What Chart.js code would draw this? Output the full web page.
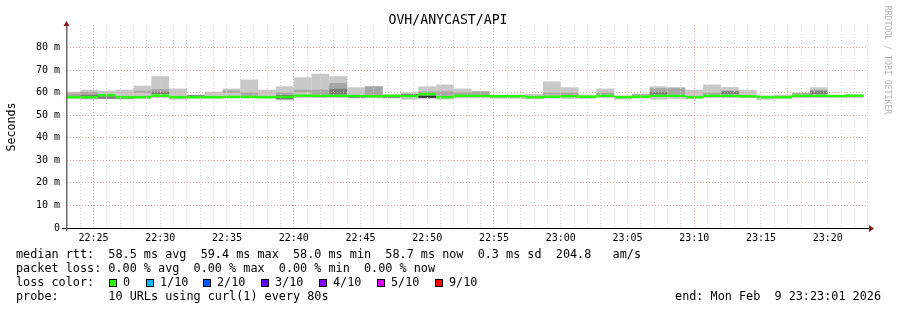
<!DOCTYPE html>
<html>
<head>
<meta charset="utf-8">
<title>OVH/ANYCAST/API</title>
<script src="https://cdn.jsdelivr.net/npm/chart.js@4/dist/chart.umd.min.js"></script>
<style>
  html, body { margin: 0; padding: 0; background: #fff; }
  canvas { display: block; }
</style>
</head>
<body>
<canvas id="rttChart" width="897" height="310"></canvas>
<script>
// start time of each 80s step (clock time)
const stepTimes = [
  "22:22:40", "22:24:00", "22:25:20", "22:26:40", "22:28:00", "22:29:20", "22:30:40", "22:32:00", "22:33:20", "22:34:40",
  "22:36:00", "22:37:20", "22:38:40", "22:40:00", "22:41:20", "22:42:40", "22:44:00", "22:45:20", "22:46:40", "22:48:00",
  "22:49:20", "22:50:40", "22:52:00", "22:53:20", "22:54:40", "22:56:00", "22:57:20", "22:58:40", "23:00:00", "23:01:20",
  "23:02:40", "23:04:00", "23:05:20", "23:06:40", "23:08:00", "23:09:20", "23:10:40", "23:12:00", "23:13:20", "23:14:40",
  "23:16:00", "23:17:20", "23:18:40", "23:20:00", "23:21:20"
];

// smoke: slowest and fastest of the 10 pings (ms)
const rttMax = [
  60.4, 61.3, 60.9, 61.3, 63.1, 67.3, 61.8, 59.1, 60.4, 61.8,
  65.8, 61.3, 62.8, 66.8, 68.4, 67.3, 62.4, 62.8, 59.3, 60.1,
  62.8, 63.6, 61.8, 60.6, 58.8, 58.8, 59.4, 65.0, 62.4, 58.8,
  61.8, 58.8, 59.4, 62.8, 62.5, 61.3, 63.6, 62.5, 61.3, 58.8,
  59.1, 59.9, 62.4, 58.8, 58.8
];
const rttMin = [
  57.3, 56.9, 57.2, 57.0, 57.3, 57.6, 56.9, 57.5, 57.4, 57.5,
  57.5, 57.5, 56.9, 57.6, 57.6, 57.6, 57.5, 57.5, 57.5, 56.9,
  57.3, 57.0, 57.5, 57.5, 57.3, 57.3, 57.2, 57.4, 57.3, 57.3,
  57.6, 56.9, 57.4, 56.9, 57.3, 57.3, 57.6, 57.6, 57.6, 56.9,
  57.3, 57.6, 57.6, 57.7, 57.6
];

// inner smoke bands
const midLo = [
  58.4, 58.4, null, null, 59.9, 60.3, null, null, null, 59.9,
  58.7, null, 59.1, 60.3, 59.1, 61.8, null, 59.1, null, null,
  59.1, 58.7, 58.7, 59.1, null, null, null, 59.1, 58.8, null,
  59.1, null, 58.8, 59.1, 59.1, null, 58.7, 59.1, null, null,
  null, 59.1, 59.1, null, null
];
const midHi = [
  59.6, 60.3, null, null, 60.9, 61.6, null, null, null, 60.9,
  59.9, null, 59.9, 61.3, 61.3, 64.3, null, 62.8, null, null,
  60.6, 60.6, 60.1, 60.6, null, null, null, 59.9, 59.9, null,
  59.9, null, 59.4, 62.0, 62.0, null, 59.9, 60.9, null, null,
  null, 59.9, 61.3, null, null
];
const darkLo = [
  null, 57.6, 57.3, null, null, 59.4, null, null, null, null,
  null, null, 57.0, null, null, 59.1, null, null, null, 58.9,
  57.6, null, null, null, null, null, null, null, null, null,
  null, null, null, 59.1, null, null, null, 59.4, null, null,
  null, null, 59.4, null, null
];
const darkHi = [
  null, 59.0, 58.4, null, null, 60.3, null, null, null, null,
  null, null, 59.0, null, null, 61.8, null, null, null, 59.4,
  58.8, null, null, null, null, null, null, null, null, null,
  null, null, null, 60.3, null, null, null, 60.6, null, null,
  null, null, 60.6, null, null
];
const blackLine = [
  null, 58.0, null, 57.9, null, null, null, 58.3, null, null,
  null, null, 58.0, null, null, null, 58.3, null, 58.3, null,
  58.2, null, null, null, null, null, null, null, null, null,
  null, null, null, null, null, null, null, null, null, null,
  null, null, null, null, null
];

// median rtt (ms), loss 0 for every step
const medianRtt = [
  58.0, 58.0, 58.9, 58.0, 58.0, 58.7, 58.0, 58.0, 58.0, 58.1,
  58.1, 58.0, 58.1, 58.7, 58.6, 58.6, 58.5, 58.4, 58.6, 58.5,
  59.4, 58.0, 58.6, 58.6, 58.4, 58.4, 58.0, 58.2, 58.4, 58.2,
  58.6, 58.0, 58.2, 58.6, 58.6, 58.0, 58.6, 58.6, 58.4, 58.0,
  58.0, 58.6, 58.6, 58.5, 58.7
];

const graphStart = "22:23:01";
const graphEnd = "23:23:01";
const stepSeconds = 80;
const gridSeconds = 60;

const lossLabels = ["0", "1/10", "2/10", "3/10", "4/10", "5/10", "9/10"];
const lossColors = ["#26ff00", "#00b8ff", "#0059ff", "#5e00ff", "#7e00ff", "#dd00ff", "#ff0000"];

const legendLines = [
  "median rtt:  58.5 ms avg  59.4 ms max  58.0 ms min  58.7 ms now  0.3 ms sd  204.8   am/s",
  "packet loss: 0.00 % avg  0.00 % max  0.00 % min  0.00 % now",
  "loss color:",
  "probe:       10 URLs using curl(1) every 80s"
];
const endLabel = "end: Mon Feb  9 23:23:01 2026";

const MONO = '"DejaVu Sans Mono", "Liberation Mono", monospace';

// seconds since 22:00:00
function toSec(t) {
  const [h, m, s] = t.split(":").map(Number);
  return (h - 22) * 3600 + m * 60 + s;
}
function toClock(sec) {
  const h = 22 + Math.floor(sec / 3600);
  const m = Math.floor((sec % 3600) / 60);
  return h + ":" + String(m).padStart(2, "0");
}

const centerOf = (i) => toSec(stepTimes[i]) + stepSeconds / 2;

function bandData(lo, hi) {
  const out = [];
  lo.forEach((v, i) => {
    if (v != null && hi[i] != null) out.push({ x: centerOf(i), y: [v, hi[i]] });
  });
  return out;
}
function lineData(vals, half) {
  const out = [];
  vals.forEach((v, i) => {
    if (v != null) out.push({ x: centerOf(i), y: [v - half, v + half] });
  });
  return out;
}

// bar width is measured against the 1 minute grid ticks, so scale it up to one 80s step
const barStyle = {
  type: "bar",
  grouped: false,
  barPercentage: 1,
  categoryPercentage: stepSeconds / gridSeconds,
  borderWidth: 0,
  borderSkipped: false,
};

const tickVal = (c) => (c.tick ? c.tick.value : NaN);

// draws the rrdtool-like frame, title, legend text
const rrdDecor = {
  id: "rrdDecor",
  afterDraw(chart) {
    const { ctx, chartArea: a } = chart;
    ctx.save();

    // axes
    ctx.fillStyle = "#000";
    ctx.fillRect(62, a.bottom, a.right - 62 + 2, 1);
    ctx.fillStyle = "#6a6a6a";
    ctx.fillRect(a.left - 1, a.top - 2, 1.5, a.bottom - a.top + 5);

    // arrows
    ctx.fillStyle = "#8c1a1a";
    ctx.beginPath();
    ctx.moveTo(a.right + 1, a.bottom - 3);
    ctx.lineTo(a.right + 6, a.bottom + 0.5);
    ctx.lineTo(a.right + 1, a.bottom + 4);
    ctx.fill();
    ctx.beginPath();
    ctx.moveTo(a.left - 3.5, a.top + 1);
    ctx.lineTo(a.left - 0.5, a.top - 4);
    ctx.lineTo(a.left + 2.5, a.top + 1);
    ctx.fill();

    // title
    ctx.fillStyle = "#000";
    ctx.textAlign = "center";
    ctx.textBaseline = "alphabetic";
    ctx.font = "13.2px " + MONO;
    ctx.fillText("OVH/ANYCAST/API", 448, 24);

    // y title
    ctx.save();
    ctx.translate(15, 127);
    ctx.rotate(-Math.PI / 2);
    ctx.font = "11.6px " + MONO;
    ctx.fillText("Seconds", 0, 0);
    ctx.restore();

    // watermark
    ctx.save();
    ctx.translate(885, 60);
    ctx.rotate(Math.PI / 2);
    ctx.fillStyle = "#b4b4b4";
    ctx.font = "8.2px " + MONO;
    ctx.fillText("RRDTOOL / TOBI OETIKER", 0, 0);
    ctx.restore();

    // legend text
    ctx.textAlign = "left";
    ctx.font = "11.8px " + MONO;
    legendLines.forEach((line, i) => {
      ctx.fillText(line, 16, 258 + i * 13.9);
    });
    ctx.textAlign = "right";
    ctx.fillText(endLabel, 881, 258 + 3 * 13.9);

    // loss color boxes
    ctx.textAlign = "left";
    const boxX = [109, 146, 203, 261, 319, 377, 435];
    lossLabels.forEach((lab, i) => {
      ctx.fillStyle = lossColors[i];
      ctx.fillRect(boxX[i], 279, 7, 7);
      ctx.strokeStyle = "#000";
      ctx.lineWidth = 1;
      ctx.strokeRect(boxX[i] + 0.5, 279.5, 7, 7);
      ctx.fillStyle = "#000";
      ctx.fillText(lab, boxX[i] + 14, 258 + 2 * 13.9);
    });

    ctx.restore();
  },
};

const ctx = document.getElementById("rttChart").getContext("2d");

new Chart(ctx, {
  data: {
    datasets: [
      { ...barStyle, label: "median", data: lineData(medianRtt, 0.55), backgroundColor: lossColors[0], order: 0 },
      { ...barStyle, label: "dark line", data: lineData(blackLine, 0.4), backgroundColor: "#303030", order: 1 },
      { ...barStyle, label: "smoke dark", data: bandData(darkLo, darkHi), backgroundColor: "#7a7a7a", order: 2 },
      { ...barStyle, label: "smoke mid", data: bandData(midLo, midHi), backgroundColor: "#a6a6a6", order: 3 },
      { ...barStyle, label: "smoke", data: bandData(rttMin, rttMax), backgroundColor: "#c8c8c8", order: 4 },
    ],
  },
  options: {
    responsive: false,
    animation: false,
    layout: { padding: { top: 25, right: 29, bottom: 62, left: 0 } },
    plugins: { legend: { display: false }, tooltip: { enabled: false } },
    scales: {
      x: {
        type: "linear",
        offset: false,
        min: toSec(graphStart),
        max: toSec(graphEnd),
        afterBuildTicks: (scale) => {
          const ticks = [];
          for (let v = toSec("22:24:00"); v < toSec(graphEnd); v += gridSeconds) ticks.push({ value: v });
          scale.ticks = ticks;
        },
        afterFit: (scale) => { scale.height = 20; },
        grid: {
          z: 1,
          offset: false,
          drawTicks: false,
          color: (c) => ((tickVal(c) - toSec("22:25:00")) % 900 === 0 ? "#ef9c9c" : "#d2d2d2"),
        },
        border: { display: false, dash: [1, 2] },
        ticks: {
          autoSkip: false,
          maxRotation: 0,
          padding: 4,
          color: "#000",
          font: { family: MONO, size: 10 },
          callback: (v) => ((v - toSec("22:25:00")) % 300 === 0 ? toClock(v) : ""),
        },
      },
      y: {
        min: 0,
        max: 90,
        afterBuildTicks: (scale) => {
          scale.ticks = scale.ticks.filter((t) => t.value < 90);
        },
        afterFit: (scale) => { scale.width = 67; },
        grid: {
          z: 1,
          drawTicks: false,
          color: (c) => (tickVal(c) % 10 === 0 ? "#ef9c9c" : "#d2d2d2"),
        },
        border: { display: false, dash: [1, 2] },
        ticks: {
          stepSize: 5,
          padding: 7,
          color: "#000",
          font: { family: MONO, size: 10 },
          callback: (v) => (v % 10 === 0 ? (v === 0 ? "0" : v + " m") : ""),
        },
      },
    },
  },
  plugins: [rrdDecor],
});
</script>
</body>
</html>
